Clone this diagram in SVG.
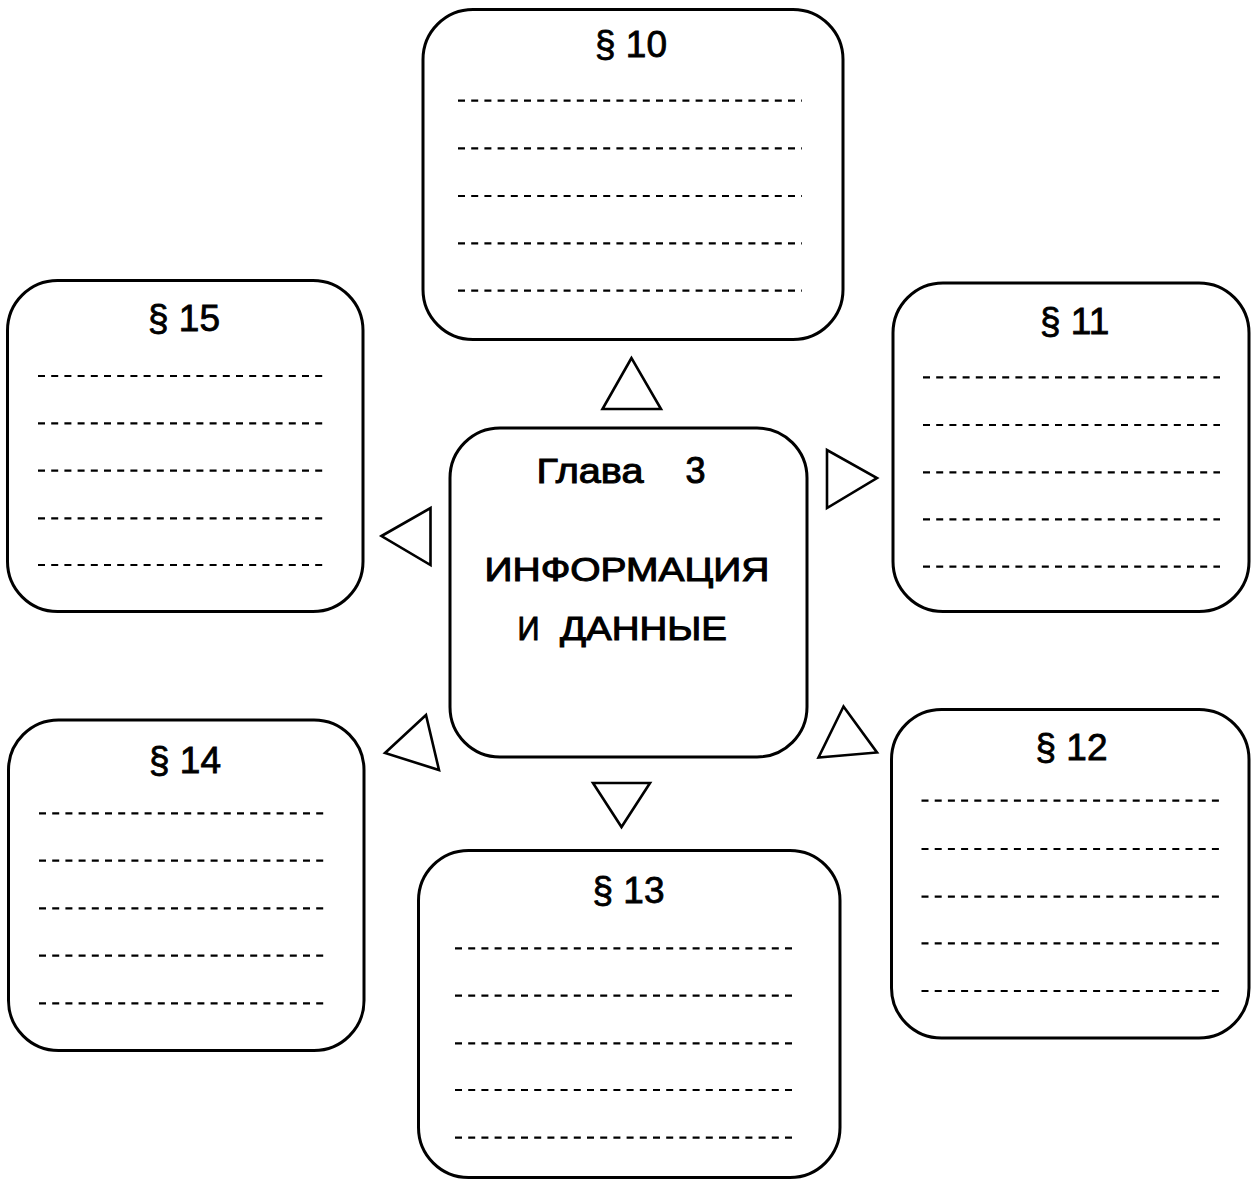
<svg xmlns="http://www.w3.org/2000/svg" width="1256" height="1179" viewBox="0 0 1256 1179">
<style>
.box{fill:#fff;stroke:#000;stroke-width:3}
.dash{stroke:#000;stroke-width:2.2;stroke-dasharray:7 6.2;fill:none}
.tri{fill:#fff;stroke:#000;stroke-width:2.6;stroke-linejoin:miter}
.ttl{font-family:"Liberation Sans",Arial,sans-serif;font-size:37px;fill:#000;stroke:#000;stroke-width:0.8}
.ctr{font-family:"Liberation Sans",Arial,sans-serif;fill:#000;stroke:#000;stroke-width:1}
</style>
<rect width="1256" height="1179" fill="#fff"/>
<g id="connectors">
<polygon class="tri" points="631.5,358 602.5,409 661,409"/>
<polygon class="tri" points="827,450 827,508 877,478"/>
<polygon class="tri" points="381.5,536 430.5,508 430.5,565"/>
<polygon class="tri" points="385,753 426,715 439,770"/>
<polygon class="tri" points="843.5,706.5 818.5,757.5 877,752.5"/>
<polygon class="tri" points="593,783 650,783 621.5,827"/>
</g>
<g id="center">
<rect class="box" x="450" y="428" width="357" height="329" rx="50" ry="50"/>
<text class="ctr" font-size="35" y="482.5"><tspan x="536.5" textLength="107" lengthAdjust="spacingAndGlyphs">Глава</tspan><tspan x="685.5" font-size="36">3</tspan></text>
<text class="ctr" font-size="33" x="484.5" y="580.5" textLength="285" lengthAdjust="spacingAndGlyphs">ИНФОРМАЦИЯ</text>
<text class="ctr" font-size="33" y="639.5"><tspan x="517.5" textLength="22" lengthAdjust="spacingAndGlyphs">И</tspan><tspan x="560" textLength="167" lengthAdjust="spacingAndGlyphs">ДАННЫЕ</tspan></text>
</g>
<g id="p10">
<rect class="box" x="423" y="9.5" width="420" height="330" rx="50" ry="50"/>
<text class="ttl" x="595" y="57.3">§ 10</text>
<path class="dash" d="M458,100.7H802M458,148.3H802M458,196H802M458,243.3H802M458,290.7H802"/>
</g>
<g id="p11">
<rect class="box" x="893" y="283" width="356" height="328.5" rx="50" ry="50"/>
<text class="ttl" x="1040" y="334">§ 11</text>
<path class="dash" d="M923,377.3H1220M923,425H1220M923,472.3H1220M923,519.3H1220M923,566.7H1220"/>
</g>
<g id="p12">
<rect class="box" x="891.5" y="709.5" width="357.5" height="328.5" rx="50" ry="50"/>
<text class="ttl" x="1035.5" y="760">§ 12</text>
<path class="dash" d="M921.5,800.7H1219M921.5,849H1219M921.5,896.7H1219M921.5,943.3H1219M921.5,991H1219"/>
</g>
<g id="p13">
<rect class="box" x="418.5" y="850.5" width="421.5" height="327" rx="50" ry="50"/>
<text class="ttl" x="592.5" y="903.3">§ 13</text>
<path class="dash" d="M455,948.3H798M455,995.7H798M455,1043.3H798M455,1090H798M455,1137.7H798"/>
</g>
<g id="p14">
<rect class="box" x="8.5" y="720" width="355.5" height="330.5" rx="50" ry="50"/>
<text class="ttl" x="149" y="773.3">§ 14</text>
<path class="dash" d="M39,813.3H327M39,860.7H327M39,908.3H327M39,955.7H327M39,1003.3H327"/>
</g>
<g id="p15">
<rect class="box" x="7.5" y="280.5" width="355.5" height="331" rx="50" ry="50"/>
<text class="ttl" x="148" y="330.7">§ 15</text>
<path class="dash" d="M38,376H326M38,423.3H326M38,470.7H326M38,518.3H326M38,565H326"/>
</g>
</svg>
